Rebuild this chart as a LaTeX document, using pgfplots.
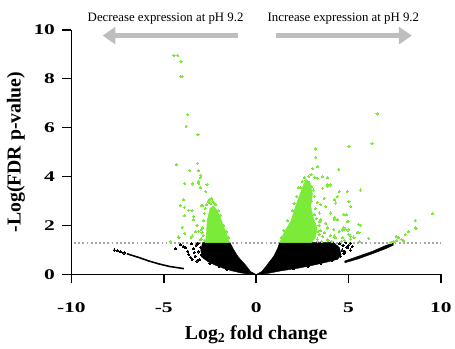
\documentclass[border=0pt]{standalone}
\usepackage{pgfplots}
\pgfplotsset{compat=1.18}
\usepackage{fontspec}
\setmainfont{Liberation Serif}
\newfontfamily\tickfont[FakeStretch=1.45]{Liberation Serif}
\usetikzlibrary{arrows.meta}
\definecolor{vgreen}{RGB}{124,234,56}
\definecolor{arrgray}{RGB}{190,190,190}
\definecolor{dotgray}{RGB}{165,165,165}
\begin{document}
\begin{tikzpicture}
\begin{axis}[
  scale only axis, width=373bp, height=247bp,
  at={(0,0)}, anchor=south west,
  xmin=-10, xmax=10, ymin=0, ymax=10,
  clip=false,
  axis x line*=bottom, axis y line*=left,
  axis line style={line width=1.6bp, black},
  tick style={line width=1.6bp, black},
  major tick length=9bp, tick align=outside,
  xtick={-10,-5,0,5,10}, xticklabels={-10,-5,0,5,10},
  ytick={0,2,4,6,8,10}, yticklabels={0,2,4,6,8,10},
  tick label style={font=\tickfont\bfseries\fontsize{15}{17}\selectfont},
  xticklabel shift=16bp, yticklabel shift=4bp,
  xlabel={Log\textsubscript{2} fold change},
  ylabel={-Log(FDR p-value)},
  label style={font=\bfseries\fontsize{20}{22}\selectfont},
  xlabel style={at={(axis description cs:0.5,-0.267)}, anchor=base},
  ylabel style={at={(axis description cs:-0.15,0.5)}, anchor=center},
]
% threshold line
\addplot[dotgray, line width=2bp, dash pattern=on 1.8bp off 2.4bp] coordinates {(-9.85,1.3) (10,1.3)};
% black dense cores
\addplot[fill=black, draw=black, line width=0.4bp] coordinates {(0,0) (-0.3,0.12) (-0.61,0.42) (-0.97,0.72) (-1.23,1.03) (-1.41,1.3) (-2.9,1.3) (-3.0,1.0) (-2.93,0.7) (-2.6,0.52) (-2.21,0.38) (-1.8,0.26) (-1.32,0.15) (-0.8,0.06) (-0.43,0.02) (0,0)} -- cycle;
\addplot[fill=black, draw=black, line width=0.4bp] coordinates {(0,0) (0.3,0.12) (0.6,0.4) (0.95,0.75) (1.15,1.05) (1.27,1.3) (4.2,1.3) (4.5,1.1) (4.6,0.8) (4.4,0.62) (3.8,0.5) (3.15,0.39) (2.3,0.26) (1.36,0.15) (0.6,0.04) (0,0)} -- cycle;
% right detached band
\addplot[fill=black, draw=black, line width=0.4bp] coordinates {(4.79,0.55) (5.5,0.74) (6.3,0.95) (6.9,1.15) (7.43,1.3) (7.43,1.2) (7.0,1.05) (6.3,0.85) (5.5,0.63) (4.8,0.48)} -- cycle;
% left detached curve
\addplot[black, line width=1.6bp] coordinates {(-7.0,0.85) (-6.33,0.69) (-5.8,0.55) (-5.25,0.43) (-4.7,0.33) (-4.18,0.27) (-3.91,0.24)};
% black scattered points
\addplot[only marks, mark=*, mark size=1.1bp, mark options={fill=black, draw=black, line width=0pt}] coordinates {
(-7.67,1.0) (-7.5,0.97) (-7.35,0.93) (-7.15,0.88)
(-4.36,1.05) (-3.82,1.09) (-4.1,1.22) (-3.95,1.15) (-3.7,0.95) (-3.65,0.82) (-3.5,1.25) (-3.4,1.05) (-3.3,0.75) (-3.25,1.2) (-3.1,0.92) (-3.05,0.6) (-3.55,0.7) (-3.35,0.9) (-3.15,1.28) (-3.0,1.1) (-2.95,0.8) (-3.45,0.62) (-3.2,0.55)
(-2.5,0.45) (-2.0,0.33) (-1.6,0.21) (2.0,0.23) (2.8,0.34) (3.5,0.46) (4.1,0.57)
(4.5,1.25) (4.7,1.2) (4.65,1.0) (4.8,0.95) (4.9,1.1) (5.0,1.2) (5.1,1.0) (4.55,0.75) (4.4,0.9) (4.85,1.3) (5.2,1.15) (4.3,1.15) (4.75,0.85) (4.93,1.09) (5.11,1.28)
};
% green dense cores
\addplot[fill=vgreen, draw=vgreen, line width=0.4bp] coordinates {(-1.44,1.3) (-1.6,1.65) (-1.85,2.15) (-2.1,2.6) (-2.3,2.8) (-2.5,2.7) (-2.65,2.2) (-2.7,1.6) (-2.75,1.3)} -- cycle;
\addplot[fill=vgreen, draw=vgreen, line width=0.4bp] coordinates {(1.27,1.3) (1.5,1.7) (1.89,2.2) (2.16,2.85) (2.43,3.4) (2.6,3.75) (2.9,3.8) (3.05,3.3) (2.95,2.8) (3.1,2.3) (3.3,1.9) (3.2,1.5) (3.0,1.3)} -- cycle;
% green scattered points
\addplot[only marks, mark=*, mark size=1.1bp, mark options={fill=vgreen, draw=vgreen, line width=0pt}] coordinates {
(-4.45,8.95) (-4.24,8.95) (-4.07,8.7) (-4.09,8.1) (-4.0,8.1) (-3.70,6.53) (-3.79,6.06) (-3.15,5.71) (-4.33,4.48) (-3.16,4.55) (-3.59,4.24) (-3.11,4.24) (-2.99,4.06) (-3.02,3.97) (-3.86,3.71) (-3.43,3.70) (-3.13,3.78) (-3.10,3.72) (-3.02,3.55) (-2.66,3.67) (-2.72,3.39) (-3.91,3.05) (-4.11,2.83) (-3.88,2.75) (-3.65,2.63) (-3.47,2.63) (-2.95,2.81) (-2.92,2.81) (-3.86,2.40) (-3.38,2.24) (-3.38,2.37) (-3.2,2.01) (-4.0,1.93) (-2.97,1.85) (-3.86,1.69) (-3.27,1.74) (-4.22,1.53) (-3.52,1.5) (-4.63,1.32) (-3.11,1.77) (-2.93,1.70) (-3.47,1.57) (-4.18,1.53) (-4.63,1.36) (-3.02,1.43)
(-2.8,2.5) (-2.85,2.2) (-2.9,1.9) (-2.87,1.6) (-2.95,1.45) (-2.6,3.0) (-2.52,3.07) (-2.4,3.1) (-2.3,2.95) (-2.2,2.85) (-2.05,2.6) (-1.95,2.4) (-1.75,2.0) (-1.6,1.75) (-1.5,1.5) (-2.55,2.95) (-2.75,2.7) (-2.8,1.4) (-2.45,2.9) (-2.35,3.0) (-2.7,2.85)
(3.2,5.13) (3.23,4.79) (3.06,4.33) (3.32,4.4) (2.97,4.09) (3.18,3.96) (3.59,4.0) (3.86,3.95) (5.02,5.24) (6.27,5.34) (6.54,6.56) (4.47,4.3) (5.65,3.45) (4.04,3.66) (3.86,3.6) (4.93,3.39) (4.49,3.39) (4.40,3.19) (4.31,2.92) (5.02,2.98) (5.12,2.78) (4.75,2.44) (4.93,2.17) (5.56,2.04) (4.75,1.9) (5.47,1.70) (5.02,1.63) (6.1,1.47) (5.6,1.35)
(9.54,2.48) (8.6,2.2) (8.6,1.93) (8.65,1.88) (8.24,1.74) (8.06,1.63) (7.7,1.5) (7.88,1.43) (7.97,1.39) (7.61,1.39) (7.52,1.36) (7.43,1.34) (7.58,1.56) (7.3,1.32)
(4.9,2.44) (4.22,2.24) (4.40,2.24) (4.97,2.17) (5.65,2.01) (4.66,1.82) (4.97,1.82) (5.56,1.70) (5.29,1.53) (5.1,1.45)
(3.32,3.93) (3.59,3.52) (3.86,3.66) (3.68,3.12) (4.22,3.05) (3.5,2.85) (3.77,2.78) (3.41,2.51) (4.04,2.51) (3.5,2.24) (3.77,2.1) (4.22,2.31) (4.40,2.24) (3.86,1.9) (4.2,1.85) (4.49,1.77) (4.75,1.85) (3.68,1.7) (4.22,1.57) (4.66,1.5) (5.11,1.57) (3.86,1.43) (3.41,1.63) (3.32,1.36)
(2.5,3.8) (2.7,3.85) (2.8,3.78) (2.65,3.65) (2.4,3.55) (2.2,3.2) (2.05,2.9) (3.0,3.6) (3.1,3.45) (3.0,3.0) (3.2,2.7) (3.25,2.3) (3.4,2.0) (3.5,1.8) (3.6,1.55) (3.9,1.4) (3.3,1.45) (3.55,1.35) (4.0,1.6) (4.1,1.35) (4.3,1.5) (4.6,1.35) (4.8,1.4) (2.85,4.0) (2.6,3.95) (2.3,3.55) (1.95,2.6) (1.7,2.2) (1.5,1.8) (1.35,1.5) (3.15,3.2) (3.3,2.95) (3.35,1.75) (3.45,2.15) (3.15,2.45)
};
% annotation arrows and text
\draw[arrgray, line width=4.5bp, -{Triangle[length=13bp,width=17bp]}] (axis cs:-0.97,9.76) -- (axis cs:-8.31,9.76);
\draw[arrgray, line width=4.5bp, -{Triangle[length=13bp,width=17bp]}] (axis cs:1.07,9.76) -- (axis cs:8.42,9.76);
\node[font=\fontsize{13}{15}\selectfont, anchor=base] at (axis cs:-4.9,10.35) {Decrease expression at pH 9.2};
\node[font=\fontsize{13}{15}\selectfont, anchor=base] at (axis cs:4.72,10.35) {Increase expression at pH 9.2};
\end{axis}
\path[use as bounding box] (-72bp,-75bp) rectangle (383bp,277bp);
\end{tikzpicture}
\end{document}
